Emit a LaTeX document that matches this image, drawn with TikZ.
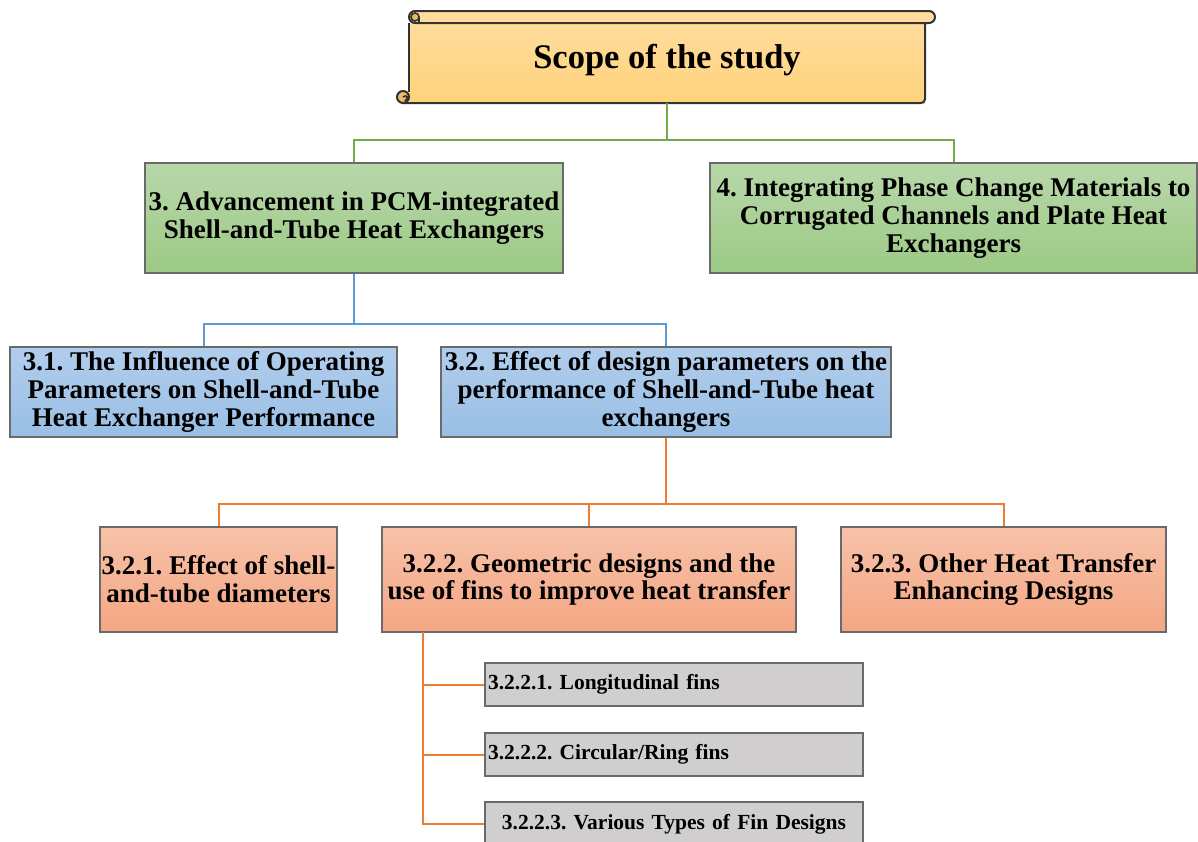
\documentclass[tikz,border=0pt]{standalone}
\usepackage{fontspec}
\setmainfont{Liberation Serif}
\frenchspacing
\definecolor{scrolltop}{HTML}{FFDC9C}
\definecolor{scrollbot}{HTML}{FFD37B}
\definecolor{curlfill}{HTML}{E9BD66}
\definecolor{greentop}{HTML}{B8D7AA}
\definecolor{greenbot}{HTML}{9CCA85}
\definecolor{bluetop}{HTML}{B1CDEC}
\definecolor{bluebot}{HTML}{99BFE5}
\definecolor{orangetop}{HTML}{F7C2A9}
\definecolor{orangebot}{HTML}{F4A683}
\definecolor{greyfill}{HTML}{D0CECE}
\definecolor{boxline}{HTML}{6A6A6A}
\definecolor{scrollline}{HTML}{333333}
\definecolor{cgreen}{HTML}{70AD47}
\definecolor{cblue}{HTML}{5B9BD5}
\definecolor{corange}{HTML}{ED7D31}
\tikzset{
  basebox/.style={draw=boxline, line width=1.2pt, inner sep=1pt, align=center,
    font=\fontsize{27}{27.8}\selectfont\bfseries},
  greenbox/.style={basebox, top color=greentop, bottom color=greenbot},
  bluebox/.style={basebox, top color=bluetop, bottom color=bluebot},
  orangebox/.style={basebox, top color=orangetop, bottom color=orangebot},
  greybox/.style={draw=boxline, line width=1.2pt, fill=greyfill, inner sep=3pt,
    minimum width=378, text width=372, minimum height=43,
    font=\fontsize{21.5}{23}\selectfont\bfseries},
  gline/.style={draw=cgreen, line width=2pt},
  bline/.style={draw=cblue, line width=2pt},
  oline/.style={draw=corange, line width=2pt},
}
\begin{document}
\begin{tikzpicture}[x=1pt,y=-1pt]
\useasboundingbox (0,0) rectangle (1198,841);
% ---- scroll ----
\path[top color=scrolltop, bottom color=scrollbot] (409,23) rectangle (925,103);
\draw[scrollline, line width=2pt, rounded corners=4] (925,23) -- (925,103) -- (402,103);
\draw[scrollline, line width=2pt] (409,23) -- (409,92);
\draw[scrollline, line width=2pt, fill=scrolltop, rounded corners=6] (409,11) rectangle (935,23);
% top-left curl
\draw[scrollline, line width=1.6pt, fill=curlfill] (415,17) circle (4);
\draw[scrollline, line width=1.6pt] (419,17) -- (419,23);
% bottom-left curl
\draw[scrollline, line width=2pt, fill=curlfill] (403,97) circle (6);
\draw[scrollline, line width=1.6pt] (403,97) .. controls (407,94) and (409,98) .. (405,101);
\node[font=\fontsize{34.5}{38}\selectfont\bfseries] (scroll) at (667,60) {Scope of the study};
\coordinate (scrollbot) at (667,103);
% ---- level 1 ----
\node[greenbox, minimum width=418, minimum height=110] (b3) at (354,218)
  {3. Advancement in PCM-integrated\\Shell-and-Tube Heat Exchangers};
\node[greenbox, minimum width=487, minimum height=110] (b4) at (953.5,218)
  {4. Integrating Phase Change Materials to\\Corrugated Channels and Plate Heat\\Exchangers};
% ---- level 2 ----
\node[bluebox, minimum width=387, minimum height=90] (b31) at (203.5,392)
  {3.1. The Influence of Operating\\Parameters on Shell-and-Tube\\Heat Exchanger Performance};
\node[bluebox, minimum width=450, minimum height=90] (b32) at (666,392)
  {3.2. Effect of design parameters on the\\performance of Shell-and-Tube heat\\exchangers};
% ---- level 3 ----
\node[orangebox, minimum width=237, minimum height=105] (b321) at (218.5,579.5)
  {3.2.1. Effect of shell-\\and-tube diameters};
\node[orangebox, minimum width=414, minimum height=105] (b322) at (589,579.5)
  {3.2.2. Geometric designs and the\\use of fins to improve heat transfer};
\node[orangebox, minimum width=325, minimum height=105] (b323) at (1003.5,579.5)
  {3.2.3. Other Heat Transfer\\Enhancing Designs};
% ---- level 4 ----
\node[greybox, align=left] (g1) at (674,684.5) {3.2.2.1. Longitudinal fins};
\node[greybox, align=left] (g2) at (674,754.5) {3.2.2.2. Circular/Ring fins};
\node[greybox, align=center, minimum height=44] (g3) at (674,824) {3.2.2.3. Various Types of Fin Designs};
% ---- connectors ----
\coordinate (gj) at (667,140);
\draw[gline] (scrollbot) -- (gj);
\draw[gline] (gj) -| (b3.north);
\draw[gline] (gj) -| (b4.north);
\coordinate (bj) at (354,324);
\draw[bline] (b3.south) -- (bj);
\draw[bline] (bj) -| (b31.north);
\draw[bline] (bj) -| (b32.north);
\coordinate (oj) at (666,504);
\draw[oline] (b32.south) -- (oj);
\draw[oline] (oj) -| (b321.north);
\draw[oline] (oj) -| (b322.north);
\draw[oline] (oj) -| (b323.north);
\coordinate (ot) at (423,632);
\coordinate (ob) at (423,824);
\draw[oline] (ot) -- (ob) -- (g3.west);
\draw[oline] (ot |- g1.west) -- (g1.west);
\draw[oline] (ot |- g2.west) -- (g2.west);
\end{tikzpicture}
\end{document}
